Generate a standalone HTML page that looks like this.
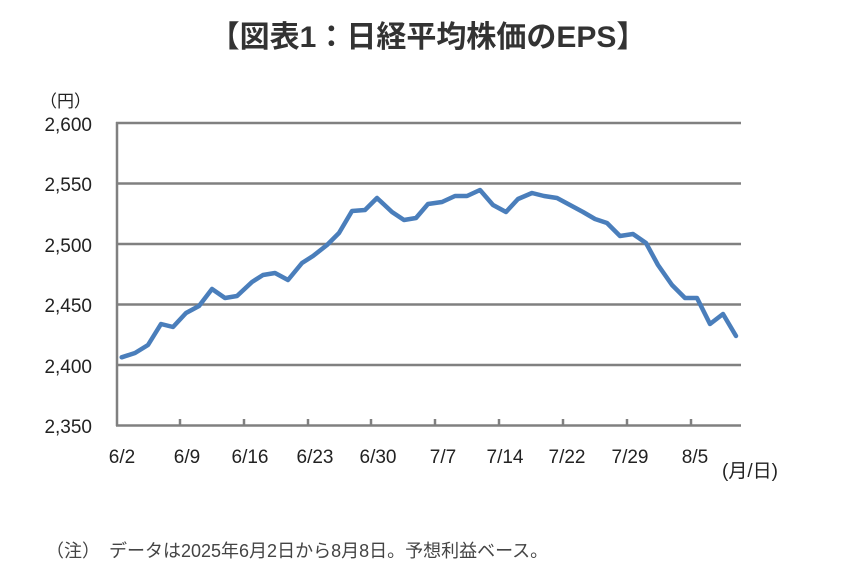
<!DOCTYPE html>
<html><head><meta charset="utf-8"><style>
body{margin:0;background:#fff;width:852px;height:564px;overflow:hidden}
text{font-family:"Liberation Sans","Noto Sans CJK JP",sans-serif;fill:#222}
</style></head><body>
<svg width="852" height="564" viewBox="0 0 852 564">
<text x="428" y="47" text-anchor="middle" font-size="30" font-weight="bold" style="fill:#333">【図表1：日経平均株価のEPS】</text>
<text x="40" y="107" font-size="17">（円）</text>
<g stroke="#808080" stroke-width="2.5">
<line x1="116" y1="123" x2="741" y2="123"/>
<line x1="116" y1="183.5" x2="741" y2="183.5"/>
<line x1="116" y1="244" x2="741" y2="244"/>
<line x1="116" y1="304.5" x2="741" y2="304.5"/>
<line x1="116" y1="365" x2="741" y2="365"/>
<line x1="116" y1="425.5" x2="741" y2="425.5"/>
<line x1="117" y1="122" x2="117" y2="426"/>
<line x1="180" y1="419" x2="180" y2="426"/><line x1="244" y1="419" x2="244" y2="426"/>
<line x1="308" y1="419" x2="308" y2="426"/><line x1="371" y1="419" x2="371" y2="426"/>
<line x1="435" y1="419" x2="435" y2="426"/><line x1="499" y1="419" x2="499" y2="426"/>
<line x1="563" y1="419" x2="563" y2="426"/><line x1="627" y1="419" x2="627" y2="426"/>
<line x1="691" y1="419" x2="691" y2="426"/>
</g>
<g font-size="19" text-anchor="end">
<text x="92" y="131">2,600</text><text x="92" y="191">2,550</text>
<text x="92" y="252">2,500</text><text x="92" y="312">2,450</text>
<text x="92" y="373">2,400</text><text x="92" y="433">2,350</text>
</g>
<g font-size="19" text-anchor="middle">
<text x="122" y="463">6/2</text><text x="187" y="463">6/9</text><text x="250" y="463">6/16</text>
<text x="315" y="463">6/23</text><text x="378" y="463">6/30</text><text x="443" y="463">7/7</text>
<text x="505" y="463">7/14</text><text x="567" y="463">7/22</text><text x="630" y="463">7/29</text>
<text x="695" y="463">8/5</text>
</g>
<text x="722" y="477" font-size="19">(月/日)</text>
<polyline fill="none" stroke="#4a7ebb" stroke-width="4.5" stroke-linejoin="round" stroke-linecap="round" points="121.7,357.3 135,353 148,345 161,324 173,327 186,313 199,306 212,289 225,298 237,296 252,282 263,275 275,273 288,280 302,263 313,256 327,245 339,233 352,211 365,210 377,198 392,212 404,220 416,218 428,204 442,202 455,196 467,196 480,190 493,205 506,212 518,199 532,193 544,196 557,198 570,205 583,212 595,219 607,223 620,236 633,234 646,243 658,265 672,285 685,298 697,298 710,324 723,314 736,336"/>
<text x="46" y="557" font-size="18" style="fill:#444">（注）　データは2025年6月2日から8月8日。予想利益ベース。</text>
</svg>
</body></html>
